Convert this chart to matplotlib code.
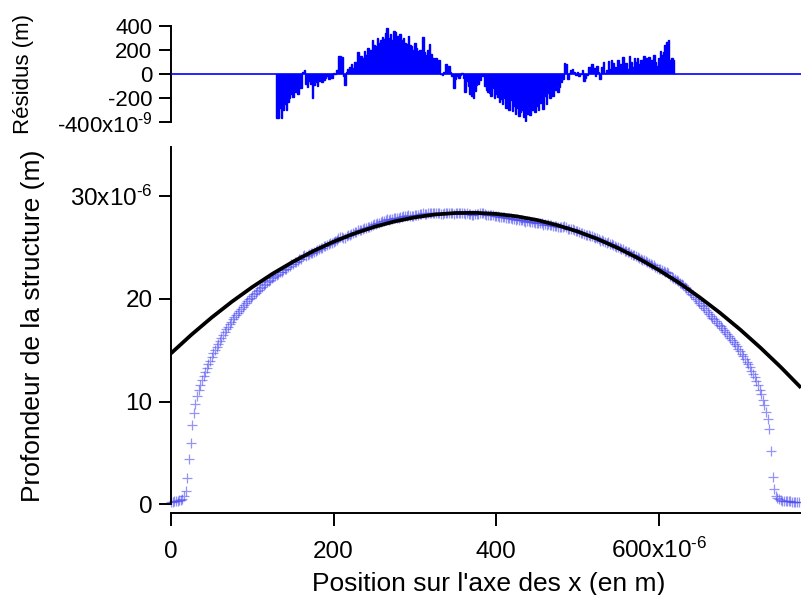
import numpy as np
import matplotlib
matplotlib.use("Agg")
import matplotlib.pyplot as plt

plt.rcParams['font.family'] = ['Liberation Sans', 'DejaVu Sans']
plt.rcParams['mathtext.fontset'] = 'custom'
plt.rcParams['mathtext.rm'] = 'Liberation Sans'
plt.rcParams['mathtext.it'] = 'Liberation Sans:italic'
plt.rcParams['mathtext.bf'] = 'Liberation Sans:bold'
plt.rcParams['axes.unicode_minus'] = False

# ---------------- data (micrometres / nanometres) ----------------
# measured profile, sampled every 2 um starting at 0 um
profile_x_start = 0.0
profile_x_step = 2.0
profile_depth_um = [
    0.22, 0.26, 0.29, 0.32, 0.36, 0.40, 0.46, 0.55, 0.80, 1.30,
    2.55, 4.40, 6.00, 7.70, 8.90, 9.80, 10.50, 11.10, 11.65, 12.10,
    12.50, 12.89, 13.27, 13.64, 14.00, 14.35, 14.69, 15.02, 15.34, 15.65,
    15.95, 16.24, 16.52, 16.79, 17.05, 17.30, 17.54, 17.78, 18.01, 18.23,
    18.45, 18.66, 18.86, 19.06, 19.25, 19.43, 19.61, 19.78, 19.95, 20.12,
    20.28, 20.44, 20.60, 20.75, 20.90, 21.05, 21.19, 21.33, 21.47, 21.61,
    21.74, 21.87, 22.00, 22.12, 22.24, 22.33, 22.43, 22.61, 22.61, 22.78,
    22.92, 22.96, 23.12, 23.24, 23.36, 23.43, 23.57, 23.64, 23.71, 23.85,
    23.93, 24.15, 24.25, 24.22, 24.28, 24.41, 24.47, 24.43, 24.61, 24.71,
    24.76, 24.87, 24.97, 25.01, 25.11, 25.20, 25.28, 25.33, 25.43, 25.48,
    25.59, 25.65, 25.74, 25.93, 25.99, 26.05, 25.95, 25.94, 26.11, 26.19,
    26.27, 26.35, 26.38, 26.48, 26.53, 26.68, 26.67, 26.76, 26.79, 26.91,
    26.93, 27.04, 27.05, 27.12, 27.25, 27.26, 27.30, 27.41, 27.42, 27.48,
    27.56, 27.58, 27.67, 27.75, 27.71, 27.78, 27.77, 27.89, 27.91, 27.92,
    27.93, 28.00, 27.99, 28.04, 28.04, 28.06, 28.16, 28.11, 28.12, 28.12,
    28.21, 28.20, 28.19, 28.23, 28.23, 28.39, 28.28, 28.28, 28.34, 28.41,
    28.35, 28.33, 28.34, 28.36, 28.36, 28.39, 28.28, 28.28, 28.33, 28.40,
    28.39, 28.41, 28.37, 28.33, 28.24, 28.33, 28.36, 28.35, 28.38, 28.40,
    28.37, 28.25, 28.34, 28.30, 28.23, 28.22, 28.20, 28.25, 28.30, 28.30,
    28.33, 28.36, 28.34, 28.26, 28.22, 28.19, 28.17, 28.14, 28.18, 28.09,
    28.11, 28.08, 28.02, 28.03, 27.97, 28.01, 27.91, 27.92, 27.85, 27.91,
    27.80, 27.82, 27.73, 27.76, 27.66, 27.67, 27.66, 27.57, 27.52, 27.55,
    27.57, 27.48, 27.49, 27.50, 27.40, 27.42, 27.35, 27.37, 27.36, 27.25,
    27.32, 27.21, 27.26, 27.18, 27.20, 27.12, 27.13, 27.11, 27.02, 27.01,
    27.01, 26.99, 27.07, 27.02, 26.85, 26.85, 26.82, 26.78, 26.71, 26.62,
    26.60, 26.50, 26.46, 26.44, 26.29, 26.26, 26.22, 26.23, 26.15, 26.13,
    26.04, 25.90, 25.93, 25.81, 25.69, 25.72, 25.69, 25.53, 25.49, 25.50,
    25.36, 25.37, 25.26, 25.16, 25.04, 25.07, 24.95, 24.86, 24.86, 24.68,
    24.66, 24.53, 24.56, 24.42, 24.30, 24.29, 24.18, 24.12, 23.99, 23.94,
    23.80, 23.80, 23.69, 23.58, 23.52, 23.38, 23.32, 23.26, 23.11, 22.98,
    22.95, 22.91, 22.79, 22.71, 22.67, 22.61, 22.52, 22.26, 22.16, 22.05,
    21.95, 21.84, 21.72, 21.59, 21.46, 21.32, 21.17, 21.02, 20.86, 20.70,
    20.53, 20.36, 20.18, 20.00, 19.81, 19.63, 19.45, 19.27, 19.09, 18.91,
    18.73, 18.55, 18.37, 18.19, 18.01, 17.83, 17.66, 17.49, 17.32, 17.15,
    16.97, 16.79, 16.61, 16.42, 16.22, 16.02, 15.81, 15.59, 15.37, 15.14,
    14.90, 14.66, 14.41, 14.16, 13.90, 13.62, 13.33, 13.02, 12.70, 12.36,
    12.00, 11.60, 11.17, 10.70, 10.20, 9.65, 9.03, 8.30, 7.35, 5.20,
    2.70, 1.50, 0.85, 0.60, 0.48, 0.41, 0.37, 0.34, 0.32, 0.30,
    0.29, 0.28, 0.27, 0.26, 0.25, 0.24, 0.23,
]

# fitted curve (black), read every 25 um
fit_x_um = [0, 25, 50, 75, 100, 125, 150, 175, 200, 225, 250, 275, 300, 325,
            350, 375, 400, 425, 450, 475, 500, 525, 550, 575, 600, 625, 650,
            675, 700, 725, 750, 775]
fit_depth_um = [14.70, 16.51, 18.19, 19.74, 21.16, 22.46, 23.62, 24.66, 25.58,
                26.36, 27.02, 27.55, 27.95, 28.23, 28.37, 28.39, 28.28, 28.05,
                27.69, 27.19, 26.58, 25.83, 24.95, 23.95, 22.82, 21.57, 20.18,
                18.67, 17.03, 15.26, 13.37, 11.35]

# residuals (nm), every 2 um from 130 um to 618 um
resid_x_start = 130.0
resid_x_step = 2.0
resid_nm = [
    -370, -365, -280, -370, -300, -250, -300, -230, -200, -170,
    -190, -140, -150, -170, -110, -120, 20, 30, -80, -110,
    -60, -80, -200, -90, -70, -100, -60, -40, -70, -50,
    -30, -20, -40, -10, -30, 10, 0, 30, 150, 150,
    140, -20, -90, 20, 40, 60, 80, 50, 100, 90,
    180, 120, 150, 130, 190, 160, 220, 180, 200, 280,
    240, 230, 300, 260, 280, 310, 290, 340, 380, 300,
    330, 280, 360, 350, 320, 290, 330, 280, 300, 260,
    250, 320, 240, 230, 200, 260, 220, 190, 200, 180,
    310, 180, 160, 200, 250, 170, 130, 120, 130, 110,
    120, 0, -10, 20, 80, 60, 70, 20, -20, -120,
    -40, -20, -30, -10, 10, -30, -150, -60, -100, -170,
    -180, -200, -140, -90, -80, -50, -10, -20, -100, -130,
    -150, -160, -180, -120, -200, -170, -190, -230, -210, -250,
    -200, -280, -250, -300, -220, -310, -270, -330, -280, -350,
    -320, -300, -360, -390, -330, -280, -340, -300, -250, -320,
    -270, -300, -240, -220, -290, -180, -250, -160, -200, -140,
    -180, -130, -100, -150, -110, -70, -40, 90, 80, -40,
    10, 30, 40, 20, -10, 20, -20, 0, 30, -60,
    -30, -10, 60, 40, 80, 50, -20, 70, 20, -40,
    60, 100, 10, 30, 110, 40, 120, 90, 60, 20,
    120, 80, 60, 140, 30, 90, 40, 150, 100, 60,
    130, 100, 130, 80, 120, 60, 150, 130, 110, 140,
    90, 120, 160, 100, 70, 130, 190, 160, 180, 240,
    270, 280, 120, 130, 120,
]

x_ticks = [0, 200, 400, 600]
x_ticklabels = ['0', '200', '400', r'600x10$^{\text{-6}}$']
y_ticks = [0, 10, 20, 30]
y_ticklabels = ['0', '10', '20', r'30x10$^{\text{-6}}$']
r_ticks = [-400, -200, 0, 200, 400]
r_ticklabels = [r'-400x10$^{\text{-9}}$', '-200', '0', '200', '400']

x_range = (0, 775)

# ---------------- figure ----------------
W, H = 801, 595
fig = plt.figure(figsize=(W / 100, H / 100), dpi=100)

ax = fig.add_axes([171 / W, 1 - 504.3 / H, 630 / W, 357.3 / H])
axr = fig.add_axes([171 / W, 1 - 122 / H, 630 / W, 96 / H])

px = 72 / 100  # points per pixel

# main panel
prof_x = profile_x_start + profile_x_step * np.arange(len(profile_depth_um))
ax.plot(prof_x, profile_depth_um, linestyle='none', marker='+',
        markersize=7, markeredgewidth=0.9, color=(0.30, 0.30, 0.95),
        alpha=0.6, clip_on=False, zorder=2)
ax.plot(fit_x_um, fit_depth_um, color='black', lw=2.7, zorder=3,
        solid_capstyle='butt')

ax.set_xlim(*x_range)
ax.set_ylim(0, 34.8)
for s in ('top', 'right'):
    ax.spines[s].set_visible(False)
for s in ('left', 'bottom'):
    ax.spines[s].set_linewidth(1.4)
ax.spines['bottom'].set_position(('outward', 8.7 * px))

ax.set_xticks(x_ticks)
ax.set_xticklabels(x_ticklabels)
ax.set_yticks(y_ticks)
ax.set_yticklabels(y_ticklabels)
ax.tick_params(axis='both', direction='out', length=12.5 * px, width=1.4,
               labelsize=17.5, colors='black')
ax.tick_params(axis='y', pad=6 * px)
ax.tick_params(axis='x', pad=32.5 * px)
for t in ax.get_xticklabels():
    t.set_va('baseline')

# residual panel (filled bars, drawn as stairs to avoid gaps)
res_edges = resid_x_start - resid_x_step / 2 + resid_x_step * np.arange(len(resid_nm) + 1)
axr.stairs(resid_nm, res_edges, baseline=0, fill=True, color='#0000ff',
           zorder=2)
axr.stairs(resid_nm, res_edges, baseline=0, fill=False, color='#0000ff',
           lw=1.0, zorder=2)
axr.axhline(0, color='#0000ff', lw=1.2, zorder=3)
axr.set_xlim(*x_range)
axr.set_ylim(-400, 400)
for s in ('top', 'right', 'bottom'):
    axr.spines[s].set_visible(False)
axr.spines['left'].set_linewidth(1.4)
axr.set_xticks([])
axr.set_yticks(r_ticks)
axr.set_yticklabels(r_ticklabels)
axr.tick_params(axis='y', direction='out', length=12.5 * px, width=1.4,
                labelsize=16, pad=6 * px)

# labels
fig.text(489 / W, 1 - 590.5 / H, "Position sur l'axe des x (en m)",
         ha='center', va='baseline', fontsize=19)
fig.text(33 / W, 1 - 326 / H, "Profondeur de la structure (m)",
         ha='center', va='center', rotation=90, fontsize=19)
fig.text(23 / W, 1 - 74 / H, "Résidus (m)",
         ha='center', va='center', rotation=90, fontsize=16)

fig.savefig('out.png', dpi=100)
